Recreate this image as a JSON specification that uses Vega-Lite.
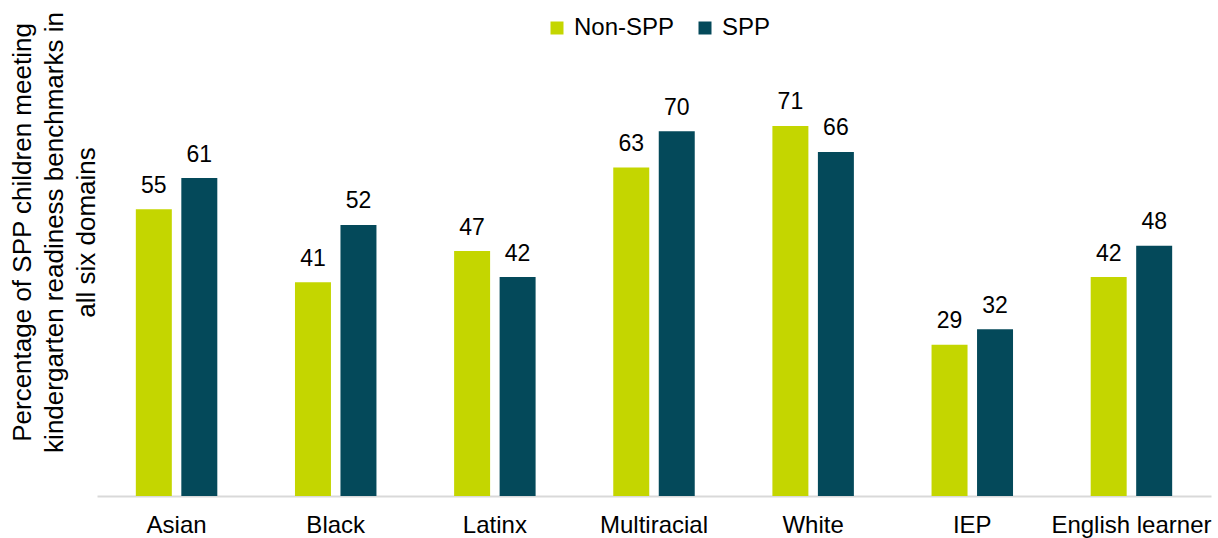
{
  "$schema": "https://vega.github.io/schema/vega-lite/v6.json",
  "autosize": {"type": "none"},
  "padding": {"left": 97, "top": 79, "right": 7, "bottom": 42},
  "width": 1114,
  "height": 417,
  "background": "#ffffff",
  "config": {
    "view": {"stroke": null},
    "font": "Liberation Sans",
    "text": {"font": "Liberation Sans"}
  },
  "data": {
    "values": [
      {"group": "Asian", "program": "Non-SPP", "pct": 55},
      {"group": "Asian", "program": "SPP", "pct": 61},
      {"group": "Black", "program": "Non-SPP", "pct": 41},
      {"group": "Black", "program": "SPP", "pct": 52},
      {"group": "Latinx", "program": "Non-SPP", "pct": 47},
      {"group": "Latinx", "program": "SPP", "pct": 42},
      {"group": "Multiracial", "program": "Non-SPP", "pct": 63},
      {"group": "Multiracial", "program": "SPP", "pct": 70},
      {"group": "White", "program": "Non-SPP", "pct": 71},
      {"group": "White", "program": "SPP", "pct": 66},
      {"group": "IEP", "program": "Non-SPP", "pct": 29},
      {"group": "IEP", "program": "SPP", "pct": 32},
      {"group": "English learner", "program": "Non-SPP", "pct": 42},
      {"group": "English learner", "program": "SPP", "pct": 48}
    ]
  },
  "encoding": {
    "x": {
      "field": "group",
      "type": "nominal",
      "sort": null,
      "scale": {"paddingInner": 0.488, "paddingOuter": 0.244},
      "axis": {
        "title": null,
        "labelAngle": 0,
        "labelFont": "Liberation Sans",
        "labelFontSize": 24,
        "labelColor": "#000000",
        "labelPadding": 17,
        "ticks": false,
        "tickSize": 0,
        "domainColor": "#d9d9d9",
        "domainWidth": 2,
        "grid": false
      }
    },
    "xOffset": {
      "field": "program",
      "type": "nominal",
      "sort": ["Non-SPP", "SPP"],
      "scale": {"paddingInner": 0.209, "paddingOuter": 0}
    },
    "y": {
      "field": "pct",
      "type": "quantitative",
      "scale": {"domain": [0, 80], "nice": false},
      "axis": {
        "title": [
          "Percentage of SPP children meeting",
          "kindergarten readiness benchmarks in",
          "all six domains"
        ],
        "titleFont": "Liberation Sans",
        "titleFontSize": 26,
        "titleFontWeight": "normal",
        "titleColor": "#000000",
        "titleLineHeight": 32,
        "titleBaseline": "alphabetic",
        "titleAlign": "center",
        "titleAngle": -90,
        "titleX": -67,
        "titleY": 153,
        "labels": false,
        "ticks": false,
        "domain": false,
        "grid": false
      }
    }
  },
  "layer": [
    {
      "mark": {"type": "bar"},
      "encoding": {
        "color": {
          "field": "program",
          "type": "nominal",
          "scale": {"domain": ["Non-SPP", "SPP"], "range": ["#c4d600", "#04495a"]},
          "legend": {
            "title": null,
            "orient": "none",
            "direction": "horizontal",
            "legendX": 448,
            "legendY": -63,
            "padding": 0,
            "symbolType": "square",
            "symbolSize": 169,
            "symbolStrokeWidth": 0,
            "labelFont": "Liberation Sans",
            "labelFontSize": 24,
            "labelColor": "#000000",
            "labelOffset": 5,
            "columnPadding": 18
          }
        }
      }
    },
    {
      "mark": {
        "type": "text",
        "baseline": "alphabetic",
        "dy": -16.5,
        "fontSize": 23,
        "font": "Liberation Sans",
        "color": "#000000"
      },
      "encoding": {
        "text": {"field": "pct", "type": "quantitative"}
      }
    }
  ]
}
